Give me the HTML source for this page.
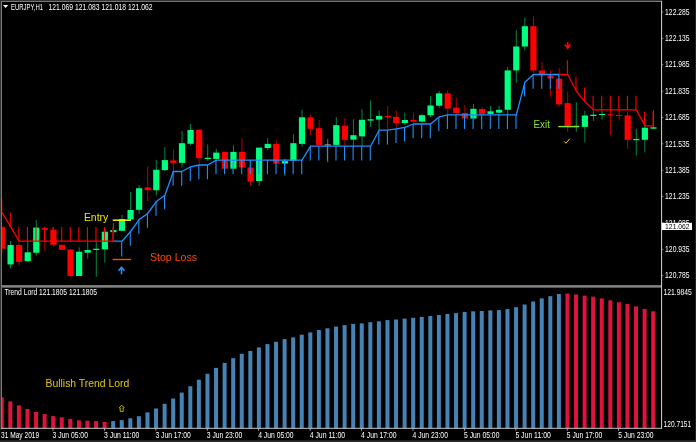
<!DOCTYPE html>
<html><head><meta charset="utf-8"><title>EURJPY,H1</title>
<style>html,body{margin:0;padding:0;background:#000;overflow:hidden}svg{display:block}text{font-family:"Liberation Sans",sans-serif}</style>
</head><body>
<svg width="696" height="442" viewBox="0 0 696 442">
<rect x="0" y="0" width="696" height="442" fill="#000"/>
<g id="candles">
<line x1="2.00" y1="226.8" x2="2.00" y2="252.7" stroke="#ff0000" stroke-width="0.9" stroke-opacity="0.8"/>
<rect x="-1.10" y="226.8" width="6.2" height="21.70" fill="#ff0000"/>
<line x1="10.57" y1="241" x2="10.57" y2="268.6" stroke="#00ff7f" stroke-width="0.9" stroke-opacity="0.6"/>
<rect x="7.47" y="245" width="6.2" height="19.40" fill="#00ff7f"/>
<line x1="19.14" y1="243.2" x2="19.14" y2="265.7" stroke="#ff0000" stroke-width="0.9" stroke-opacity="0.8"/>
<rect x="16.04" y="245" width="6.2" height="16.90" fill="#ff0000"/>
<line x1="27.71" y1="241.8" x2="27.71" y2="262" stroke="#00ff7f" stroke-width="0.9" stroke-opacity="0.6"/>
<rect x="24.61" y="252.3" width="6.2" height="8.90" fill="#00ff7f"/>
<line x1="36.29" y1="220.1" x2="36.29" y2="255.7" stroke="#00ff7f" stroke-width="0.9" stroke-opacity="0.6"/>
<rect x="33.19" y="227.6" width="6.2" height="25.10" fill="#00ff7f"/>
<line x1="44.86" y1="226.8" x2="44.86" y2="251.5" stroke="#ff0000" stroke-width="0.9" stroke-opacity="0.8"/>
<rect x="41.76" y="228.1" width="6.2" height="1.70" fill="#ff0000"/>
<line x1="53.43" y1="227.6" x2="53.43" y2="246.8" stroke="#ff0000" stroke-width="0.9" stroke-opacity="0.8"/>
<rect x="50.33" y="229.8" width="6.2" height="15.00" fill="#ff0000"/>
<line x1="62.00" y1="244.8" x2="62.00" y2="249.8" stroke="#ff0000" stroke-width="0.9" stroke-opacity="0.8"/>
<rect x="58.90" y="244.8" width="6.2" height="5.00" fill="#ff0000"/>
<line x1="70.57" y1="249.5" x2="70.57" y2="276.8" stroke="#ff0000" stroke-width="0.9" stroke-opacity="0.8"/>
<rect x="67.47" y="249.5" width="6.2" height="26.50" fill="#ff0000"/>
<line x1="79.14" y1="247.3" x2="79.14" y2="276" stroke="#00ff7f" stroke-width="0.9" stroke-opacity="0.6"/>
<rect x="76.04" y="251.7" width="6.2" height="24.30" fill="#00ff7f"/>
<line x1="87.71" y1="241.8" x2="87.71" y2="258.5" stroke="#00ff7f" stroke-width="0.9" stroke-opacity="0.6"/>
<rect x="84.61" y="250" width="6.2" height="2.70" fill="#00ff7f"/>
<line x1="96.29" y1="241.8" x2="96.29" y2="276.8" stroke="#00ff7f" stroke-width="0.9" stroke-opacity="0.6"/>
<rect x="93.19" y="248.7" width="6.2" height="1.30" fill="#00ff7f"/>
<line x1="104.86" y1="228" x2="104.86" y2="262.8" stroke="#00ff7f" stroke-width="0.9" stroke-opacity="0.6"/>
<rect x="101.76" y="231.7" width="6.2" height="17.70" fill="#00ff7f"/>
<line x1="113.43" y1="223.3" x2="113.43" y2="238" stroke="#00ff7f" stroke-width="0.9" stroke-opacity="0.6"/>
<rect x="110.33" y="230.1" width="6.2" height="2.10" fill="#00ff7f"/>
<line x1="122.00" y1="214.6" x2="122.00" y2="230.8" stroke="#00ff7f" stroke-width="0.9" stroke-opacity="0.6"/>
<rect x="118.90" y="219" width="6.2" height="11.80" fill="#00ff7f"/>
<line x1="130.57" y1="191.9" x2="130.57" y2="220.2" stroke="#00ff7f" stroke-width="0.9" stroke-opacity="0.6"/>
<rect x="127.47" y="210" width="6.2" height="9.40" fill="#00ff7f"/>
<line x1="139.14" y1="185.2" x2="139.14" y2="214" stroke="#00ff7f" stroke-width="0.9" stroke-opacity="0.6"/>
<rect x="136.04" y="188.2" width="6.2" height="21.60" fill="#00ff7f"/>
<line x1="147.71" y1="166.4" x2="147.71" y2="201.1" stroke="#ff0000" stroke-width="0.9" stroke-opacity="0.8"/>
<rect x="144.61" y="187.4" width="6.2" height="2.80" fill="#ff0000"/>
<line x1="156.29" y1="159.8" x2="156.29" y2="195.7" stroke="#00ff7f" stroke-width="0.9" stroke-opacity="0.6"/>
<rect x="153.19" y="169.8" width="6.2" height="20.40" fill="#00ff7f"/>
<line x1="164.86" y1="147" x2="164.86" y2="171" stroke="#00ff7f" stroke-width="0.9" stroke-opacity="0.6"/>
<rect x="161.76" y="160.1" width="6.2" height="10.00" fill="#00ff7f"/>
<line x1="173.43" y1="149.8" x2="173.43" y2="171" stroke="#ff0000" stroke-width="0.9" stroke-opacity="0.8"/>
<rect x="170.33" y="160.4" width="6.2" height="2.50" fill="#ff0000"/>
<line x1="182.00" y1="131" x2="182.00" y2="167.6" stroke="#00ff7f" stroke-width="0.9" stroke-opacity="0.6"/>
<rect x="178.90" y="143.2" width="6.2" height="19.60" fill="#00ff7f"/>
<line x1="190.57" y1="124" x2="190.57" y2="145.5" stroke="#00ff7f" stroke-width="0.9" stroke-opacity="0.6"/>
<rect x="187.47" y="130" width="6.2" height="13.80" fill="#00ff7f"/>
<line x1="199.14" y1="129.7" x2="199.14" y2="164.3" stroke="#ff0000" stroke-width="0.9" stroke-opacity="0.8"/>
<rect x="196.04" y="129.7" width="6.2" height="28.50" fill="#ff0000"/>
<line x1="207.71" y1="144.4" x2="207.71" y2="160.8" stroke="#00ff7f" stroke-width="0.9" stroke-opacity="0.6"/>
<rect x="204.61" y="157.8" width="6.2" height="1.20" fill="#00ff7f"/>
<line x1="216.29" y1="148.8" x2="216.29" y2="158.9" stroke="#00ff7f" stroke-width="0.9" stroke-opacity="0.6"/>
<rect x="213.19" y="152.6" width="6.2" height="6.30" fill="#00ff7f"/>
<line x1="224.86" y1="151.9" x2="224.86" y2="168.7" stroke="#ff0000" stroke-width="0.9" stroke-opacity="0.8"/>
<rect x="221.76" y="151.9" width="6.2" height="16.80" fill="#ff0000"/>
<line x1="233.43" y1="145.3" x2="233.43" y2="168.7" stroke="#00ff7f" stroke-width="0.9" stroke-opacity="0.6"/>
<rect x="230.33" y="151.9" width="6.2" height="16.80" fill="#00ff7f"/>
<line x1="242.00" y1="138.1" x2="242.00" y2="167.4" stroke="#ff0000" stroke-width="0.9" stroke-opacity="0.8"/>
<rect x="238.90" y="151.9" width="6.2" height="15.50" fill="#ff0000"/>
<line x1="250.57" y1="167.4" x2="250.57" y2="186" stroke="#ff0000" stroke-width="0.9" stroke-opacity="0.8"/>
<rect x="247.47" y="167.5" width="6.2" height="14.00" fill="#ff0000"/>
<line x1="259.14" y1="147.6" x2="259.14" y2="186" stroke="#00ff7f" stroke-width="0.9" stroke-opacity="0.6"/>
<rect x="256.04" y="147.6" width="6.2" height="33.40" fill="#00ff7f"/>
<line x1="267.71" y1="138.2" x2="267.71" y2="150.2" stroke="#00ff7f" stroke-width="0.9" stroke-opacity="0.6"/>
<rect x="264.61" y="143.9" width="6.2" height="4.10" fill="#00ff7f"/>
<line x1="276.28" y1="140.2" x2="276.28" y2="163.7" stroke="#ff0000" stroke-width="0.9" stroke-opacity="0.8"/>
<rect x="273.18" y="143.9" width="6.2" height="19.80" fill="#ff0000"/>
<line x1="284.86" y1="158.6" x2="284.86" y2="176" stroke="#00ff7f" stroke-width="0.9" stroke-opacity="0.6"/>
<rect x="281.76" y="161.1" width="6.2" height="2.50" fill="#00ff7f"/>
<line x1="293.43" y1="134.3" x2="293.43" y2="160.6" stroke="#00ff7f" stroke-width="0.9" stroke-opacity="0.6"/>
<rect x="290.33" y="143.2" width="6.2" height="17.40" fill="#00ff7f"/>
<line x1="302.00" y1="110" x2="302.00" y2="146.9" stroke="#00ff7f" stroke-width="0.9" stroke-opacity="0.6"/>
<rect x="298.90" y="117.3" width="6.2" height="26.60" fill="#00ff7f"/>
<line x1="310.57" y1="114.7" x2="310.57" y2="134.9" stroke="#ff0000" stroke-width="0.9" stroke-opacity="0.8"/>
<rect x="307.47" y="117.3" width="6.2" height="11.50" fill="#ff0000"/>
<line x1="319.14" y1="120.1" x2="319.14" y2="144.9" stroke="#ff0000" stroke-width="0.9" stroke-opacity="0.8"/>
<rect x="316.04" y="128.2" width="6.2" height="16.70" fill="#ff0000"/>
<line x1="327.71" y1="138.9" x2="327.71" y2="162.3" stroke="#c8c8c0" stroke-width="0.9" stroke-opacity="0.6"/>
<rect x="324.61" y="144.5" width="6.2" height="0.80" fill="#c8c8c0"/>
<line x1="336.28" y1="117.1" x2="336.28" y2="144.9" stroke="#00ff7f" stroke-width="0.9" stroke-opacity="0.6"/>
<rect x="333.18" y="125.2" width="6.2" height="19.70" fill="#00ff7f"/>
<line x1="344.86" y1="118.1" x2="344.86" y2="145.2" stroke="#ff0000" stroke-width="0.9" stroke-opacity="0.8"/>
<rect x="341.76" y="125.7" width="6.2" height="14.20" fill="#ff0000"/>
<line x1="353.43" y1="119.3" x2="353.43" y2="146" stroke="#00ff7f" stroke-width="0.9" stroke-opacity="0.6"/>
<rect x="350.33" y="135.2" width="6.2" height="4.50" fill="#00ff7f"/>
<line x1="362.00" y1="109.2" x2="362.00" y2="146" stroke="#00ff7f" stroke-width="0.9" stroke-opacity="0.6"/>
<rect x="358.90" y="119.8" width="6.2" height="16.60" fill="#00ff7f"/>
<line x1="370.57" y1="100.4" x2="370.57" y2="126.8" stroke="#00ff7f" stroke-width="0.9" stroke-opacity="0.6"/>
<rect x="367.47" y="119.3" width="6.2" height="1.30" fill="#00ff7f"/>
<line x1="379.14" y1="110.6" x2="379.14" y2="130.2" stroke="#00ff7f" stroke-width="0.9" stroke-opacity="0.6"/>
<rect x="376.04" y="115.9" width="6.2" height="3.70" fill="#00ff7f"/>
<line x1="387.71" y1="106.2" x2="387.71" y2="129.3" stroke="#ff0000" stroke-width="0.9" stroke-opacity="0.8"/>
<rect x="384.61" y="115.9" width="6.2" height="1.20" fill="#ff0000"/>
<line x1="396.28" y1="110.4" x2="396.28" y2="127.7" stroke="#ff0000" stroke-width="0.9" stroke-opacity="0.8"/>
<rect x="393.18" y="116.8" width="6.2" height="6.20" fill="#ff0000"/>
<line x1="404.86" y1="112.6" x2="404.86" y2="124.8" stroke="#00ff7f" stroke-width="0.9" stroke-opacity="0.6"/>
<rect x="401.76" y="120" width="6.2" height="3.10" fill="#00ff7f"/>
<line x1="413.43" y1="112.6" x2="413.43" y2="122.7" stroke="#ff0000" stroke-width="0.9" stroke-opacity="0.8"/>
<rect x="410.33" y="120" width="6.2" height="1.70" fill="#ff0000"/>
<line x1="422.00" y1="113.9" x2="422.00" y2="123.2" stroke="#00ff7f" stroke-width="0.9" stroke-opacity="0.6"/>
<rect x="418.90" y="115.2" width="6.2" height="6.40" fill="#00ff7f"/>
<line x1="430.57" y1="95.9" x2="430.57" y2="117.2" stroke="#00ff7f" stroke-width="0.9" stroke-opacity="0.6"/>
<rect x="427.47" y="105.5" width="6.2" height="9.70" fill="#00ff7f"/>
<line x1="439.14" y1="90.9" x2="439.14" y2="107.7" stroke="#00ff7f" stroke-width="0.9" stroke-opacity="0.6"/>
<rect x="436.04" y="93.4" width="6.2" height="12.30" fill="#00ff7f"/>
<line x1="447.71" y1="90.4" x2="447.71" y2="114.4" stroke="#ff0000" stroke-width="0.9" stroke-opacity="0.8"/>
<rect x="444.61" y="93.4" width="6.2" height="15.10" fill="#ff0000"/>
<line x1="456.28" y1="97.6" x2="456.28" y2="113" stroke="#ff0000" stroke-width="0.9" stroke-opacity="0.8"/>
<rect x="453.18" y="107.7" width="6.2" height="5.30" fill="#ff0000"/>
<line x1="464.86" y1="105.2" x2="464.86" y2="118.5" stroke="#ff0000" stroke-width="0.9" stroke-opacity="0.8"/>
<rect x="461.76" y="113" width="6.2" height="5.50" fill="#ff0000"/>
<line x1="473.43" y1="104" x2="473.43" y2="118.5" stroke="#00ff7f" stroke-width="0.9" stroke-opacity="0.6"/>
<rect x="470.33" y="108.8" width="6.2" height="9.70" fill="#00ff7f"/>
<line x1="482.00" y1="107.2" x2="482.00" y2="113.9" stroke="#ff0000" stroke-width="0.9" stroke-opacity="0.8"/>
<rect x="478.90" y="109" width="6.2" height="4.90" fill="#ff0000"/>
<line x1="490.57" y1="106" x2="490.57" y2="113.9" stroke="#00ff7f" stroke-width="0.9" stroke-opacity="0.6"/>
<rect x="487.47" y="111.3" width="6.2" height="2.60" fill="#00ff7f"/>
<line x1="499.14" y1="105.7" x2="499.14" y2="112.7" stroke="#00ff7f" stroke-width="0.9" stroke-opacity="0.6"/>
<rect x="496.04" y="109.8" width="6.2" height="2.90" fill="#00ff7f"/>
<line x1="507.71" y1="67.1" x2="507.71" y2="114.9" stroke="#00ff7f" stroke-width="0.9" stroke-opacity="0.6"/>
<rect x="504.61" y="70.4" width="6.2" height="39.40" fill="#00ff7f"/>
<line x1="516.28" y1="30.1" x2="516.28" y2="82.7" stroke="#00ff7f" stroke-width="0.9" stroke-opacity="0.6"/>
<rect x="513.18" y="46.5" width="6.2" height="23.90" fill="#00ff7f"/>
<line x1="524.86" y1="17.5" x2="524.86" y2="50.7" stroke="#00ff7f" stroke-width="0.9" stroke-opacity="0.6"/>
<rect x="521.76" y="26.2" width="6.2" height="20.30" fill="#00ff7f"/>
<line x1="533.43" y1="16.4" x2="533.43" y2="73" stroke="#ff0000" stroke-width="0.9" stroke-opacity="0.8"/>
<rect x="530.33" y="26.2" width="6.2" height="44.30" fill="#ff0000"/>
<line x1="542.00" y1="62.1" x2="542.00" y2="76" stroke="#ff0000" stroke-width="0.9" stroke-opacity="0.8"/>
<rect x="538.90" y="70.5" width="6.2" height="4.70" fill="#ff0000"/>
<line x1="550.57" y1="70.5" x2="550.57" y2="96.8" stroke="#ff0000" stroke-width="0.9" stroke-opacity="0.8"/>
<rect x="547.47" y="75.5" width="6.2" height="3.00" fill="#ff0000"/>
<line x1="559.14" y1="68.2" x2="559.14" y2="106.9" stroke="#ff0000" stroke-width="0.9" stroke-opacity="0.8"/>
<rect x="556.04" y="78.7" width="6.2" height="25.70" fill="#ff0000"/>
<line x1="567.71" y1="91.3" x2="567.71" y2="132.2" stroke="#ff0000" stroke-width="0.9" stroke-opacity="0.8"/>
<rect x="564.61" y="103.1" width="6.2" height="24.00" fill="#ff0000"/>
<line x1="576.28" y1="102.1" x2="576.28" y2="131.8" stroke="#00ff7f" stroke-width="0.9" stroke-opacity="0.6"/>
<rect x="573.18" y="125.8" width="6.2" height="1.30" fill="#00ff7f"/>
<line x1="584.86" y1="110.8" x2="584.86" y2="142.4" stroke="#00ff7f" stroke-width="0.9" stroke-opacity="0.6"/>
<rect x="581.76" y="115.5" width="6.2" height="11.40" fill="#00ff7f"/>
<line x1="593.43" y1="110.1" x2="593.43" y2="120.8" stroke="#00ff7f" stroke-width="0.9" stroke-opacity="0.6"/>
<rect x="590.33" y="114.7" width="6.2" height="1.30" fill="#00ff7f"/>
<line x1="602.00" y1="110.1" x2="602.00" y2="119.4" stroke="#00ff7f" stroke-width="0.9" stroke-opacity="0.6"/>
<rect x="598.90" y="114" width="6.2" height="1.00" fill="#00ff7f"/>
<line x1="610.57" y1="109.8" x2="610.57" y2="135.2" stroke="#ff0000" stroke-width="0.9" stroke-opacity="0.8"/>
<rect x="607.47" y="114.3" width="6.2" height="1.10" fill="#ff0000"/>
<line x1="619.14" y1="110" x2="619.14" y2="120.5" stroke="#ff0000" stroke-width="0.9" stroke-opacity="0.8"/>
<rect x="616.04" y="115.1" width="6.2" height="0.90" fill="#ff0000"/>
<line x1="627.71" y1="112" x2="627.71" y2="148.9" stroke="#ff0000" stroke-width="0.9" stroke-opacity="0.8"/>
<rect x="624.61" y="115.4" width="6.2" height="24.50" fill="#ff0000"/>
<line x1="636.28" y1="128.8" x2="636.28" y2="155.6" stroke="#00ff7f" stroke-width="0.9" stroke-opacity="0.6"/>
<rect x="633.18" y="138.9" width="6.2" height="1.30" fill="#00ff7f"/>
<line x1="644.86" y1="125" x2="644.86" y2="152.4" stroke="#00ff7f" stroke-width="0.9" stroke-opacity="0.6"/>
<rect x="641.75" y="127.7" width="6.2" height="12.10" fill="#00ff7f"/>
<line x1="653.43" y1="110.2" x2="653.43" y2="128.7" stroke="#00ff7f" stroke-width="0.9" stroke-opacity="0.6"/>
<rect x="650.33" y="127.3" width="6.2" height="1.40" fill="#00ff7f"/>
</g>
<g id="ticks" stroke-width="1.1">
<line x1="1.70" y1="198.2" x2="1.70" y2="212.4" stroke="#ff0000"/>
<line x1="10.27" y1="212.4" x2="10.27" y2="226.6" stroke="#ff0000"/>
<line x1="18.84" y1="226.8" x2="18.84" y2="241.0" stroke="#ff0000"/>
<line x1="27.41" y1="227.0" x2="27.41" y2="241.2" stroke="#ff0000"/>
<line x1="35.99" y1="227.0" x2="35.99" y2="241.2" stroke="#ff0000"/>
<line x1="44.56" y1="227.0" x2="44.56" y2="241.2" stroke="#ff0000"/>
<line x1="53.13" y1="227.0" x2="53.13" y2="241.2" stroke="#ff0000"/>
<line x1="61.70" y1="227.0" x2="61.70" y2="241.2" stroke="#ff0000"/>
<line x1="70.27" y1="227.0" x2="70.27" y2="241.2" stroke="#ff0000"/>
<line x1="78.84" y1="227.0" x2="78.84" y2="241.2" stroke="#ff0000"/>
<line x1="87.41" y1="227.0" x2="87.41" y2="241.2" stroke="#ff0000"/>
<line x1="95.99" y1="227.0" x2="95.99" y2="241.2" stroke="#ff0000"/>
<line x1="104.56" y1="227.0" x2="104.56" y2="241.2" stroke="#ff0000"/>
<line x1="113" y1="227.3" x2="113" y2="241.2" stroke="#b80000" stroke-width="1.8"/>
<line x1="121.70" y1="241.2" x2="121.70" y2="256.6" stroke="#1e90ff"/>
<line x1="130.27" y1="231.5" x2="130.27" y2="245.7" stroke="#1e90ff"/>
<line x1="138.84" y1="219.6" x2="138.84" y2="233.8" stroke="#1e90ff"/>
<line x1="147.41" y1="213.5" x2="147.41" y2="227.7" stroke="#1e90ff"/>
<line x1="155.99" y1="201.6" x2="155.99" y2="215.8" stroke="#1e90ff"/>
<line x1="164.56" y1="195.2" x2="164.56" y2="209.4" stroke="#1e90ff"/>
<line x1="173.13" y1="171.5" x2="173.13" y2="185.7" stroke="#1e90ff"/>
<line x1="181.70" y1="171.5" x2="181.70" y2="185.7" stroke="#1e90ff"/>
<line x1="190.27" y1="166.8" x2="190.27" y2="181.0" stroke="#1e90ff"/>
<line x1="198.84" y1="165.0" x2="198.84" y2="179.2" stroke="#1e90ff"/>
<line x1="207.41" y1="165.0" x2="207.41" y2="179.2" stroke="#1e90ff"/>
<line x1="215.99" y1="160.1" x2="215.99" y2="174.3" stroke="#1e90ff"/>
<line x1="224.56" y1="160.1" x2="224.56" y2="174.3" stroke="#1e90ff"/>
<line x1="233.13" y1="160.1" x2="233.13" y2="174.3" stroke="#1e90ff"/>
<line x1="241.70" y1="160.1" x2="241.70" y2="174.3" stroke="#1e90ff"/>
<line x1="250.27" y1="160.1" x2="250.27" y2="174.3" stroke="#1e90ff"/>
<line x1="258.84" y1="160.1" x2="258.84" y2="174.3" stroke="#1e90ff"/>
<line x1="267.41" y1="160.1" x2="267.41" y2="174.3" stroke="#1e90ff"/>
<line x1="275.98" y1="160.1" x2="275.98" y2="174.3" stroke="#1e90ff"/>
<line x1="284.56" y1="160.1" x2="284.56" y2="174.3" stroke="#1e90ff"/>
<line x1="293.13" y1="160.1" x2="293.13" y2="174.3" stroke="#1e90ff"/>
<line x1="301.70" y1="160.1" x2="301.70" y2="174.3" stroke="#1e90ff"/>
<line x1="310.27" y1="146.2" x2="310.27" y2="160.4" stroke="#1e90ff"/>
<line x1="318.84" y1="146.2" x2="318.84" y2="160.4" stroke="#1e90ff"/>
<line x1="327.41" y1="146.2" x2="327.41" y2="160.4" stroke="#1e90ff"/>
<line x1="335.98" y1="146.2" x2="335.98" y2="160.4" stroke="#1e90ff"/>
<line x1="344.56" y1="146.2" x2="344.56" y2="160.4" stroke="#1e90ff"/>
<line x1="353.13" y1="146.2" x2="353.13" y2="160.4" stroke="#1e90ff"/>
<line x1="361.70" y1="146.2" x2="361.70" y2="160.4" stroke="#1e90ff"/>
<line x1="370.27" y1="146.2" x2="370.27" y2="160.4" stroke="#1e90ff"/>
<line x1="378.84" y1="130.2" x2="378.84" y2="144.4" stroke="#1e90ff"/>
<line x1="387.41" y1="130.2" x2="387.41" y2="144.4" stroke="#1e90ff"/>
<line x1="395.98" y1="128.8" x2="395.98" y2="143.0" stroke="#1e90ff"/>
<line x1="404.56" y1="127.4" x2="404.56" y2="141.6" stroke="#1e90ff"/>
<line x1="413.13" y1="124.0" x2="413.13" y2="138.2" stroke="#1e90ff"/>
<line x1="421.70" y1="124.0" x2="421.70" y2="138.2" stroke="#1e90ff"/>
<line x1="430.27" y1="124.0" x2="430.27" y2="138.2" stroke="#1e90ff"/>
<line x1="438.84" y1="116.9" x2="438.84" y2="131.1" stroke="#1e90ff"/>
<line x1="447.41" y1="114.8" x2="447.41" y2="129.0" stroke="#1e90ff"/>
<line x1="455.98" y1="114.8" x2="455.98" y2="129.0" stroke="#1e90ff"/>
<line x1="464.56" y1="114.8" x2="464.56" y2="129.0" stroke="#1e90ff"/>
<line x1="473.13" y1="114.8" x2="473.13" y2="129.0" stroke="#1e90ff"/>
<line x1="481.70" y1="114.8" x2="481.70" y2="129.0" stroke="#1e90ff"/>
<line x1="490.27" y1="114.8" x2="490.27" y2="129.0" stroke="#1e90ff"/>
<line x1="498.84" y1="114.8" x2="498.84" y2="129.0" stroke="#1e90ff"/>
<line x1="507.41" y1="114.8" x2="507.41" y2="129.0" stroke="#1e90ff"/>
<line x1="515.98" y1="114.8" x2="515.98" y2="129.0" stroke="#1e90ff"/>
<line x1="524.56" y1="82.3" x2="524.56" y2="96.5" stroke="#1e90ff"/>
<line x1="533.13" y1="74.5" x2="533.13" y2="88.7" stroke="#1e90ff"/>
<line x1="541.70" y1="74.5" x2="541.70" y2="88.7" stroke="#1e90ff"/>
<line x1="550.27" y1="74.5" x2="550.27" y2="88.7" stroke="#1e90ff"/>
<line x1="558.84" y1="74.5" x2="558.84" y2="88.7" stroke="#1e90ff"/>
<line x1="567.41" y1="60.3" x2="567.41" y2="74.5" stroke="#ff0000"/>
<line x1="575.98" y1="76.8" x2="575.98" y2="91.0" stroke="#ff0000"/>
<line x1="584.56" y1="87.6" x2="584.56" y2="101.8" stroke="#ff0000"/>
<line x1="593.13" y1="95.7" x2="593.13" y2="109.9" stroke="#ff0000"/>
<line x1="601.70" y1="95.7" x2="601.70" y2="109.9" stroke="#ff0000"/>
<line x1="610.27" y1="95.7" x2="610.27" y2="109.9" stroke="#ff0000"/>
<line x1="618.84" y1="95.7" x2="618.84" y2="109.9" stroke="#ff0000"/>
<line x1="627.41" y1="95.7" x2="627.41" y2="109.9" stroke="#ff0000"/>
<line x1="635.98" y1="95.7" x2="635.98" y2="109.9" stroke="#ff0000"/>
<line x1="644.56" y1="111.6" x2="644.56" y2="125.8" stroke="#ff0000"/>
<line x1="653.13" y1="111.6" x2="653.13" y2="125.8" stroke="#ff0000"/>
</g>
<polyline points="2.0,212.4 10.6,226.6 19.1,241.0 27.7,241.2 36.3,241.2 44.9,241.2 53.4,241.2 62.0,241.2 70.6,241.2 79.1,241.2 87.7,241.2 96.3,241.2 104.9,241.2 113.4,241.2" fill="none" stroke="#ff0000" stroke-width="1.3" stroke-linejoin="round"/>
<polyline points="113.4,241.2 122.0,241.2 130.6,231.5 139.1,219.6 147.7,213.5 156.3,201.6 164.9,195.2 173.4,171.5 182.0,171.5 190.6,166.8 199.1,165.0 207.7,165.0 216.3,160.1 224.9,160.1 233.4,160.1 242.0,160.1 250.6,160.1 259.1,160.1 267.7,160.1 276.3,160.1 284.9,160.1 293.4,160.1 302.0,160.1 310.6,146.2 319.1,146.2 327.7,146.2 336.3,146.2 344.9,146.2 353.4,146.2 362.0,146.2 370.6,146.2 379.1,130.2 387.7,130.2 396.3,128.8 404.9,127.4 413.4,124.0 422.0,124.0 430.6,124.0 439.1,116.9 447.7,114.8 456.3,114.8 464.9,114.8 473.4,114.8 482.0,114.8 490.6,114.8 499.1,114.8 507.7,114.8 516.3,114.8 524.9,82.3 533.4,74.5 542.0,74.5 550.6,74.5 559.1,74.5" fill="none" stroke="#1e90ff" stroke-width="1.3" stroke-linejoin="round"/>
<polyline points="559.1,74.5 567.7,74.5 576.3,91.0 584.9,101.8 593.4,109.9 602.0,109.9 610.6,109.9 619.1,109.9 627.7,109.9 636.3,109.9 644.9,125.8 653.4,125.8" fill="none" stroke="#ff0000" stroke-width="1.3" stroke-linejoin="round"/>
<line x1="112.7" y1="220.2" x2="131" y2="220.2" stroke="#ffee00" stroke-width="1.5"/>
<line x1="112.7" y1="259.5" x2="131" y2="259.5" stroke="#ff4a00" stroke-width="1.4"/>
<line x1="558.3" y1="126.6" x2="578.7" y2="126.6" stroke="#84e030" stroke-width="1.4"/>
<text x="83.9" y="221.1" font-size="11" fill="#f2e400" textLength="24.4" lengthAdjust="spacingAndGlyphs">Entry</text>
<text x="149.9" y="260.7" font-size="10.6" fill="#ff4800" textLength="47.2" lengthAdjust="spacingAndGlyphs">Stop Loss</text>
<text x="533.5" y="127.9" font-size="10.6" fill="#84e030" textLength="16.4" lengthAdjust="spacingAndGlyphs">Exit</text>
<text x="45.5" y="387.4" font-size="10.8" fill="#e6c800" textLength="83.8" lengthAdjust="spacingAndGlyphs">Bullish Trend Lord</text>
<path d="M121.5,274.2 V267.6 M118.6,270.8 L121.5,267.3 L124.4,270.8" fill="none" stroke="#1e90ff" stroke-width="1.6"/>
<path d="M567.7,42 V48 M565,44.6 L567.7,48.4 L570.4,44.6" fill="none" stroke="#ff0000" stroke-width="1.7" stroke-linejoin="miter"/>
<path d="M564.2,141.4 L565.9,143.3 L569.9,138.6" fill="none" stroke="#f0d000" stroke-width="1.0"/>
<path d="M121.7,405.2 L124.2,407.9 L123.2,407.9 L123.2,411.4 L120.2,411.4 L120.2,407.9 L119.2,407.9 Z" fill="none" stroke="#d0c000" stroke-width="0.9"/>
<g id="hist">
<rect x="-0.25" y="397.3" width="4.0" height="31.0" fill="#dc143c"/>
<rect x="8.32" y="401.4" width="4.0" height="26.9" fill="#dc143c"/>
<rect x="16.89" y="405.4" width="4.0" height="22.9" fill="#dc143c"/>
<rect x="25.46" y="409" width="4.0" height="19.3" fill="#dc143c"/>
<rect x="34.04" y="412" width="4.0" height="16.3" fill="#dc143c"/>
<rect x="42.61" y="414.1" width="4.0" height="14.2" fill="#dc143c"/>
<rect x="51.18" y="416.1" width="4.0" height="12.2" fill="#dc143c"/>
<rect x="59.75" y="417.3" width="4.0" height="11.0" fill="#dc143c"/>
<rect x="68.32" y="418.9" width="4.0" height="9.4" fill="#dc143c"/>
<rect x="76.89" y="420.3" width="4.0" height="8.0" fill="#dc143c"/>
<rect x="85.46" y="420.7" width="4.0" height="7.6" fill="#dc143c"/>
<rect x="94.04" y="421.1" width="4.0" height="7.2" fill="#dc143c"/>
<rect x="102.61" y="421.9" width="4.0" height="6.4" fill="#dc143c"/>
<rect x="111.18" y="421.1" width="4.0" height="7.2" fill="#4682b4"/>
<rect x="119.75" y="420.1" width="4.0" height="8.2" fill="#4682b4"/>
<rect x="128.32" y="418.3" width="4.0" height="10.0" fill="#4682b4"/>
<rect x="136.89" y="416.2" width="4.0" height="12.1" fill="#4682b4"/>
<rect x="145.46" y="412.4" width="4.0" height="15.9" fill="#4682b4"/>
<rect x="154.04" y="408.5" width="4.0" height="19.8" fill="#4682b4"/>
<rect x="162.61" y="403.8" width="4.0" height="24.5" fill="#4682b4"/>
<rect x="171.18" y="398.5" width="4.0" height="29.8" fill="#4682b4"/>
<rect x="179.75" y="392.6" width="4.0" height="35.7" fill="#4682b4"/>
<rect x="188.32" y="386.2" width="4.0" height="42.1" fill="#4682b4"/>
<rect x="196.89" y="379.7" width="4.0" height="48.6" fill="#4682b4"/>
<rect x="205.46" y="373.8" width="4.0" height="54.5" fill="#4682b4"/>
<rect x="214.04" y="367.9" width="4.0" height="60.4" fill="#4682b4"/>
<rect x="222.61" y="362.9" width="4.0" height="65.4" fill="#4682b4"/>
<rect x="231.18" y="358.2" width="4.0" height="70.1" fill="#4682b4"/>
<rect x="239.75" y="353.8" width="4.0" height="74.5" fill="#4682b4"/>
<rect x="248.32" y="350.9" width="4.0" height="77.4" fill="#4682b4"/>
<rect x="256.89" y="347.4" width="4.0" height="80.9" fill="#4682b4"/>
<rect x="265.46" y="344.1" width="4.0" height="84.2" fill="#4682b4"/>
<rect x="274.03" y="341.8" width="4.0" height="86.5" fill="#4682b4"/>
<rect x="282.61" y="339.1" width="4.0" height="89.2" fill="#4682b4"/>
<rect x="291.18" y="337.4" width="4.0" height="90.9" fill="#4682b4"/>
<rect x="299.75" y="334.7" width="4.0" height="93.6" fill="#4682b4"/>
<rect x="308.32" y="332.4" width="4.0" height="95.9" fill="#4682b4"/>
<rect x="316.89" y="330" width="4.0" height="98.3" fill="#4682b4"/>
<rect x="325.46" y="328.3" width="4.0" height="100.0" fill="#4682b4"/>
<rect x="334.03" y="326.6" width="4.0" height="101.7" fill="#4682b4"/>
<rect x="342.61" y="325.1" width="4.0" height="103.2" fill="#4682b4"/>
<rect x="351.18" y="323.9" width="4.0" height="104.4" fill="#4682b4"/>
<rect x="359.75" y="323.4" width="4.0" height="104.9" fill="#4682b4"/>
<rect x="368.32" y="322.2" width="4.0" height="106.1" fill="#4682b4"/>
<rect x="376.89" y="321.3" width="4.0" height="107.0" fill="#4682b4"/>
<rect x="385.46" y="320.1" width="4.0" height="108.2" fill="#4682b4"/>
<rect x="394.03" y="319.5" width="4.0" height="108.8" fill="#4682b4"/>
<rect x="402.61" y="318.6" width="4.0" height="109.7" fill="#4682b4"/>
<rect x="411.18" y="317.8" width="4.0" height="110.5" fill="#4682b4"/>
<rect x="419.75" y="316.9" width="4.0" height="111.4" fill="#4682b4"/>
<rect x="428.32" y="316" width="4.0" height="112.3" fill="#4682b4"/>
<rect x="436.89" y="315.1" width="4.0" height="113.2" fill="#4682b4"/>
<rect x="445.46" y="313.9" width="4.0" height="114.4" fill="#4682b4"/>
<rect x="454.03" y="313.1" width="4.0" height="115.2" fill="#4682b4"/>
<rect x="462.61" y="311.9" width="4.0" height="116.4" fill="#4682b4"/>
<rect x="471.18" y="311.3" width="4.0" height="117.0" fill="#4682b4"/>
<rect x="479.75" y="311" width="4.0" height="117.3" fill="#4682b4"/>
<rect x="488.32" y="310.4" width="4.0" height="117.9" fill="#4682b4"/>
<rect x="496.89" y="310.1" width="4.0" height="118.2" fill="#4682b4"/>
<rect x="505.46" y="309.1" width="4.0" height="119.2" fill="#4682b4"/>
<rect x="514.03" y="307.2" width="4.0" height="121.1" fill="#4682b4"/>
<rect x="522.61" y="304.5" width="4.0" height="123.8" fill="#4682b4"/>
<rect x="531.18" y="301.5" width="4.0" height="126.8" fill="#4682b4"/>
<rect x="539.75" y="298.4" width="4.0" height="129.9" fill="#4682b4"/>
<rect x="548.32" y="296.2" width="4.0" height="132.1" fill="#4682b4"/>
<rect x="556.89" y="294" width="4.0" height="134.3" fill="#4682b4"/>
<rect x="565.46" y="293.5" width="4.0" height="134.8" fill="#dc143c"/>
<rect x="574.03" y="294.5" width="4.0" height="133.8" fill="#dc143c"/>
<rect x="582.61" y="295.7" width="4.0" height="132.6" fill="#dc143c"/>
<rect x="591.18" y="296.7" width="4.0" height="131.6" fill="#dc143c"/>
<rect x="599.75" y="298.4" width="4.0" height="129.9" fill="#dc143c"/>
<rect x="608.32" y="300.3" width="4.0" height="128.0" fill="#dc143c"/>
<rect x="616.89" y="302.3" width="4.0" height="126.0" fill="#dc143c"/>
<rect x="625.46" y="304" width="4.0" height="124.3" fill="#dc143c"/>
<rect x="634.03" y="306.4" width="4.0" height="121.9" fill="#dc143c"/>
<rect x="642.61" y="308.9" width="4.0" height="119.4" fill="#dc143c"/>
<rect x="651.18" y="311.3" width="4.0" height="117.0" fill="#dc143c"/>
</g>
<rect x="0" y="0" width="2" height="442" fill="#000"/>
<rect x="0" y="0" width="1" height="430" fill="#333"/>
<rect x="1" y="1" width="1" height="428" fill="#7a7a7a"/>
<rect x="0" y="0" width="662" height="1" fill="#333"/>
<rect x="1" y="1" width="661" height="1" fill="#747474"/>
<rect x="1" y="198.8" width="1" height="13.6" fill="#e05060"/>
<rect x="1" y="285" width="661" height="2.8" fill="#6a6a6a"/>
<rect x="1" y="285.6" width="661" height="1.2" fill="#8a8a8a"/>
<rect x="661" y="1" width="1.1" height="428" fill="#c4c4c4"/>
<rect x="1" y="427.8" width="661" height="1" fill="#c4c4c4"/>
<rect x="695.2" y="0" width="0.8" height="442" fill="#2a2a2a"/>
<rect x="0" y="440.4" width="696" height="1.6" fill="#303030"/>
<g font-size="9" fill="#fff">
<rect x="662" y="11.6" width="1.3" height="0.8" fill="#a0a0a0"/>
<text x="665.1" y="14.7" textLength="24.5" lengthAdjust="spacingAndGlyphs">122.285</text>
<rect x="662" y="37.970000000000006" width="1.3" height="0.8" fill="#a0a0a0"/>
<text x="665.1" y="41.1" textLength="24.5" lengthAdjust="spacingAndGlyphs">122.135</text>
<rect x="662" y="64.34" width="1.3" height="0.8" fill="#a0a0a0"/>
<text x="665.1" y="67.4" textLength="24.5" lengthAdjust="spacingAndGlyphs">121.985</text>
<rect x="662" y="90.71" width="1.3" height="0.8" fill="#a0a0a0"/>
<text x="665.1" y="93.8" textLength="24.5" lengthAdjust="spacingAndGlyphs">121.835</text>
<rect x="662" y="117.08" width="1.3" height="0.8" fill="#a0a0a0"/>
<text x="665.1" y="120.2" textLength="24.5" lengthAdjust="spacingAndGlyphs">121.685</text>
<rect x="662" y="143.45" width="1.3" height="0.8" fill="#a0a0a0"/>
<text x="665.1" y="146.5" textLength="24.5" lengthAdjust="spacingAndGlyphs">121.535</text>
<rect x="662" y="169.82" width="1.3" height="0.8" fill="#a0a0a0"/>
<text x="665.1" y="172.9" textLength="24.5" lengthAdjust="spacingAndGlyphs">121.385</text>
<rect x="662" y="196.19" width="1.3" height="0.8" fill="#a0a0a0"/>
<text x="665.1" y="199.3" textLength="24.5" lengthAdjust="spacingAndGlyphs">121.235</text>
<rect x="662" y="222.56" width="1.3" height="0.8" fill="#a0a0a0"/>
<text x="665.1" y="225.7" textLength="24.5" lengthAdjust="spacingAndGlyphs">121.085</text>
<rect x="662" y="248.93" width="1.3" height="0.8" fill="#a0a0a0"/>
<text x="665.1" y="252.0" textLength="24.5" lengthAdjust="spacingAndGlyphs">120.935</text>
<rect x="662" y="275.3" width="1.3" height="0.8" fill="#a0a0a0"/>
<text x="665.1" y="278.4" textLength="24.5" lengthAdjust="spacingAndGlyphs">120.785</text>
<text x="663.5" y="294.6" textLength="28.2" lengthAdjust="spacingAndGlyphs">121.9845</text>
<text x="663.6" y="427.3" textLength="27.6" lengthAdjust="spacingAndGlyphs">120.7151</text>
</g>
<rect x="662" y="222.8" width="30" height="7.2" fill="#fff"/>
<text x="665.1" y="229.0" font-size="8" fill="#000" textLength="24.5" lengthAdjust="spacingAndGlyphs">121.062</text>
<path d="M3,5 L8.2,5 L5.6,8 Z" fill="#fff"/>
<g font-size="9" fill="#fff">
<text x="11" y="9.7" textLength="32" lengthAdjust="spacingAndGlyphs">EURJPY,H1</text>
<text x="48.5" y="9.7" textLength="104" lengthAdjust="spacingAndGlyphs">121.069 121.083 121.018 121.062</text>
<text x="4.5" y="295.4" textLength="92.5" lengthAdjust="spacingAndGlyphs">Trend Lord 121.1805 121.1805</text>
<text x="1.0" y="437.6" textLength="38.2" lengthAdjust="spacingAndGlyphs">31 May 2019</text>
<rect x="52.5" y="428.6" width="0.9" height="2" fill="#c4c4c4"/>
<text x="52.5" y="437.6" textLength="35.4" lengthAdjust="spacingAndGlyphs">3 Jun 05:00</text>
<rect x="104.0" y="428.6" width="0.9" height="2" fill="#c4c4c4"/>
<text x="104.0" y="437.6" textLength="35.4" lengthAdjust="spacingAndGlyphs">3 Jun 11:00</text>
<rect x="155.4" y="428.6" width="0.9" height="2" fill="#c4c4c4"/>
<text x="155.4" y="437.6" textLength="35.4" lengthAdjust="spacingAndGlyphs">3 Jun 17:00</text>
<rect x="206.8" y="428.6" width="0.9" height="2" fill="#c4c4c4"/>
<text x="206.8" y="437.6" textLength="35.4" lengthAdjust="spacingAndGlyphs">3 Jun 23:00</text>
<rect x="258.2" y="428.6" width="0.9" height="2" fill="#c4c4c4"/>
<text x="258.2" y="437.6" textLength="35.4" lengthAdjust="spacingAndGlyphs">4 Jun 05:00</text>
<rect x="309.7" y="428.6" width="0.9" height="2" fill="#c4c4c4"/>
<text x="309.7" y="437.6" textLength="35.4" lengthAdjust="spacingAndGlyphs">4 Jun 11:00</text>
<rect x="361.1" y="428.6" width="0.9" height="2" fill="#c4c4c4"/>
<text x="361.1" y="437.6" textLength="35.4" lengthAdjust="spacingAndGlyphs">4 Jun 17:00</text>
<rect x="412.5" y="428.6" width="0.9" height="2" fill="#c4c4c4"/>
<text x="412.5" y="437.6" textLength="35.4" lengthAdjust="spacingAndGlyphs">4 Jun 23:00</text>
<rect x="464.0" y="428.6" width="0.9" height="2" fill="#c4c4c4"/>
<text x="464.0" y="437.6" textLength="35.4" lengthAdjust="spacingAndGlyphs">5 Jun 05:00</text>
<rect x="515.4" y="428.6" width="0.9" height="2" fill="#c4c4c4"/>
<text x="515.4" y="437.6" textLength="35.4" lengthAdjust="spacingAndGlyphs">5 Jun 11:00</text>
<rect x="566.8" y="428.6" width="0.9" height="2" fill="#c4c4c4"/>
<text x="566.8" y="437.6" textLength="35.4" lengthAdjust="spacingAndGlyphs">5 Jun 17:00</text>
<rect x="618.2" y="428.6" width="0.9" height="2" fill="#c4c4c4"/>
<text x="618.2" y="437.6" textLength="35.4" lengthAdjust="spacingAndGlyphs">5 Jun 23:00</text>
</g>
</svg>
</body></html>
